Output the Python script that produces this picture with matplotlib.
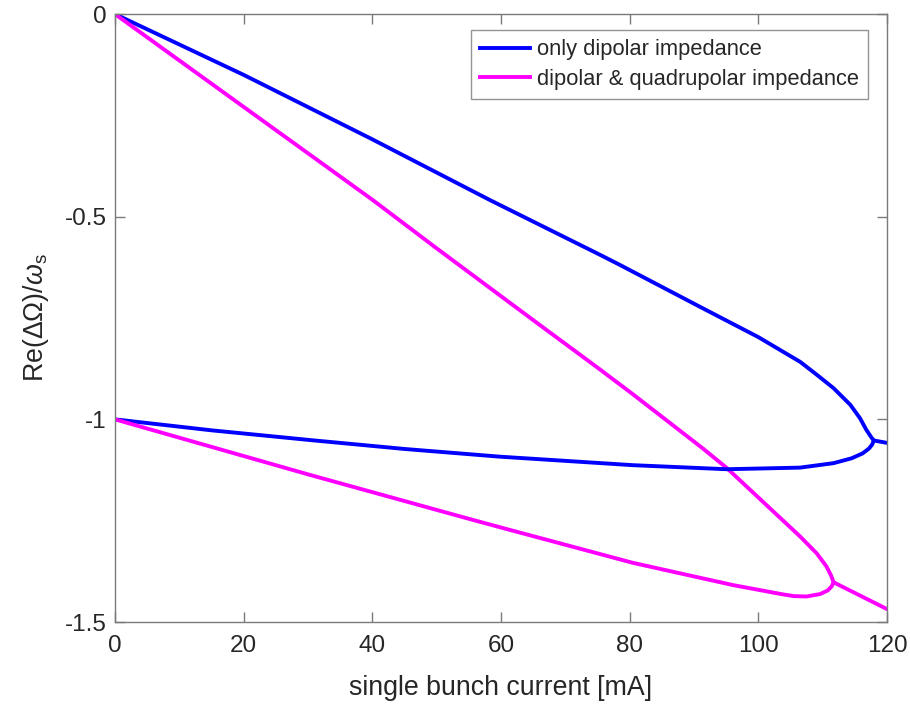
import matplotlib
matplotlib.use("Agg")
import matplotlib.pyplot as plt

plt.rcParams["font.family"] = ["Liberation Sans", "DejaVu Sans"]
plt.rcParams["mathtext.fontset"] = "custom"
plt.rcParams["mathtext.rm"] = "Liberation Sans"
plt.rcParams["mathtext.it"] = "Liberation Sans:italic"
plt.rcParams["axes.unicode_minus"] = False

# ── Data ─────────────────────────────────────────────────────────────────────
# only dipolar impedance
dip_up_x = [0, 20, 40, 58.3, 75.4, 78.5, 90.9, 100, 106.5, 109.1, 111.7, 114.3, 115.8, 116.8,
            117.6, 117.95, 120]
dip_up_y = [0, -0.150, -0.309, -0.459, -0.594, -0.619, -0.722, -0.797, -0.858, -0.890, -0.923,
            -0.964, -0.997, -1.026, -1.045, -1.052, -1.058]
dip_lo_x = [0, 15, 30.3, 45, 59.8, 80.5, 95.1, 106.5, 111.7, 114.5, 116.2, 117.2, 117.7, 117.95]
dip_lo_y = [-1.0, -1.027, -1.051, -1.073, -1.092, -1.113, -1.123, -1.119, -1.108, -1.096,
            -1.084, -1.072, -1.062, -1.052]

# dipolar & quadrupolar impedance
quad_up_x = [0, 20, 40, 50, 65, 75.4, 80.5, 91.4, 95.1, 101.3, 106.5, 109.1, 110.6, 111.3,
             111.7, 120]
quad_up_y = [0, -0.229, -0.458, -0.578, -0.755, -0.877, -0.938, -1.072, -1.120, -1.212, -1.289,
             -1.331, -1.363, -1.385, -1.402, -1.468]
quad_lo_x = [0, 30.3, 54.7, 59.8, 80.5, 96.1, 103.9, 105.5, 107.5, 109.6, 110.8, 111.4, 111.7]
quad_lo_y = [-1.0, -1.137, -1.244, -1.266, -1.354, -1.409, -1.432, -1.436, -1.437, -1.431,
             -1.422, -1.412, -1.402]

x_ticks = [0, 20, 40, 60, 80, 100, 120]
y_ticks = [-1.5, -1.0, -0.5, 0]
y_tick_labels = ["-1.5", "-1", "-0.5", "0"]

# ── Figure ───────────────────────────────────────────────────────────────────
fig = plt.figure(figsize=(9.1, 7.05), dpi=100)
ax = fig.add_axes([0.1264, 0.1177, 0.8483, 0.8623])

lw = 2.8
ax.plot(dip_up_x, dip_up_y, color="#0000ff", lw=lw, label="only dipolar impedance",
        solid_joinstyle="round")
ax.plot(quad_up_x, quad_up_y, color="#ff00ff", lw=lw, label="dipolar & quadrupolar impedance",
        solid_joinstyle="round")
ax.plot(dip_lo_x, dip_lo_y, color="#0000ff", lw=lw, solid_joinstyle="round")
ax.plot(quad_lo_x, quad_lo_y, color="#ff00ff", lw=lw, solid_joinstyle="round")

ax.set_xlim(0, 120)
ax.set_ylim(-1.5, 0)
ax.set_xticks(x_ticks)
ax.set_yticks(y_ticks)
ax.set_yticklabels(y_tick_labels)

axis_col = "#7a7a7a"
for s in ax.spines.values():
    s.set_color(axis_col)
    s.set_linewidth(1.0)
ax.tick_params(direction="in", top=True, right=True, length=7, width=1.0,
               color=axis_col, labelcolor="#262626", labelsize=17.5)
ax.tick_params(axis="x", pad=9)
ax.tick_params(axis="y", pad=6)

ax.set_xlabel("single bunch current [mA]", fontsize=19.25, color="#262626", labelpad=13)
ax.set_ylabel(r"Re(ΔΩ)/$\omega_{\mathrm{s}}$", fontsize=19.25, color="#262626", labelpad=10)

leg = ax.legend(loc="upper right", bbox_to_anchor=(0.9754, 0.9737), borderaxespad=0,
                fontsize=15.75, frameon=True, fancybox=False, edgecolor=axis_col,
                handlelength=2.3, handletextpad=0.3, borderpad=0.42, labelspacing=0.38)
leg.get_frame().set_linewidth(1.0)
for t in leg.get_texts():
    t.set_color("#262626")

fig.savefig("out.png", dpi=100)
